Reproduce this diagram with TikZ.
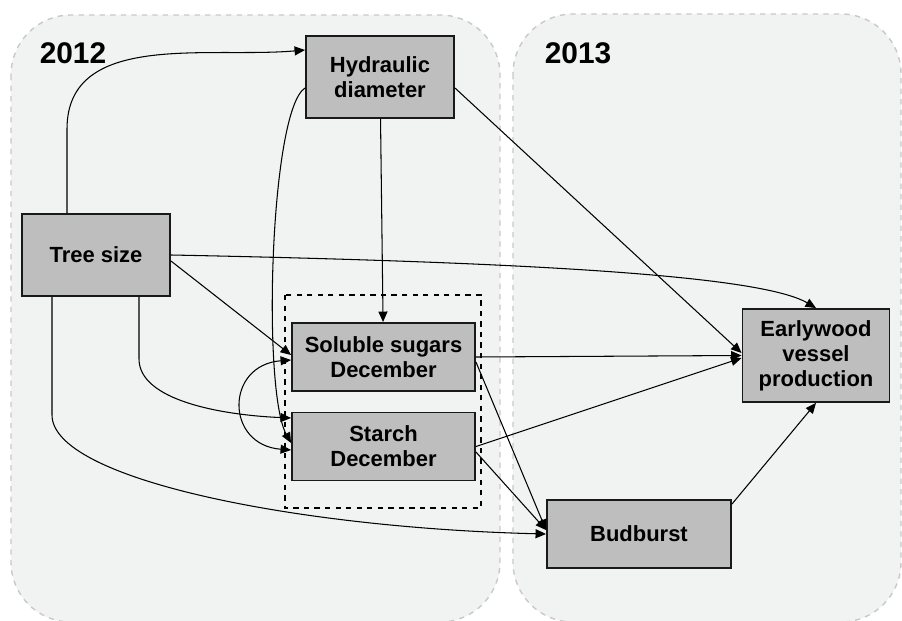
\documentclass[tikz,border=0pt]{standalone}
\usepackage{fontspec}
\setmainfont{Liberation Sans}
\usetikzlibrary{arrows.meta,calc}
\definecolor{panelgray}{HTML}{F1F2F2}
\definecolor{panelline}{HTML}{C9C9C9}
\definecolor{boxgray}{HTML}{BEBEBE}

\begin{document}
\begin{tikzpicture}[x=0.02cm,y=0.02cm,
  box/.style={rectangle,draw=black!90,line width=1.1pt,fill=boxgray,align=center,
    font=\fontsize{12.5}{14.2}\selectfont\bfseries,inner sep=2pt},
  panel/.style={draw=panelline,dashed,line width=0.8pt,fill=panelgray,rounded corners=1.2cm},
  year/.style={font=\fontsize{17}{20}\selectfont\bfseries},
  >={Triangle[length=2.1mm,width=1.8mm]},
  every path/.style={line width=0.6pt}]

\useasboundingbox[fill=white] (0,0) rectangle (902,-621);

% Years
\draw[panel] (11,-15) rectangle (500,-622);
\draw[panel] (513,-14) rectangle (901,-622);
\node[year] (y2012) at (73,-53) {2012};
\node[year] (y2013) at (578,-53) {2013};

% Boxes
\node (hyd) at (380,-77) [box,minimum width=2.96cm,minimum height=1.64cm] {Hydraulic\\diameter};
\node (tree) at (96,-255) [box,minimum width=2.96cm,minimum height=1.64cm] {Tree size};
\node (sugar) at (383.5,-357) [box,minimum width=3.66cm,minimum height=1.36cm] {Soluble sugars\\December};
\node (starch) at (383.5,-446.5) [box,minimum width=3.66cm,minimum height=1.36cm] {Starch\\December};
\node (early) at (816,-355.5) [box,minimum width=2.94cm,minimum height=1.86cm] {Earlywood\\vessel\\production};
\node (bud) at (639,-534) [box,minimum width=3.68cm,minimum height=1.36cm] {Budburst};
\draw[dashed,line width=1pt] (285,-295) rectangle (481,-508);

% Tree size
\coordinate (treeup) at ($(tree.north)+(-29,84)$);
\coordinate (treemid) at ($(tree.south)+(43,-62)$);
\coordinate (treelow) at ($(tree.south)+(-44,-118)$);
\draw[->] ($(tree.north)+(-29,0)$) -- (treeup) to[out=90,in=185] ($(hyd.west)+(0,27)$);
\draw[->] ($(tree.east)+(0,-6)$) -- ($(sugar.west)+(0,2)$);
\draw[->] (tree.east) .. controls (520,-262) and (760,-275) .. (early.north);
\draw[->] ($(tree.south)+(43,0)$) -- (treemid) .. controls (139,-400) and (220,-415) .. ($(starch.west)+(0,28.5)$);
\draw[->] ($(tree.south)+(-44,0)$) -- (treelow) .. controls (52,-480) and (300,-528) .. (bud.west);

% Hydraulic diameter
\draw[->] (hyd) -- (sugar);
\draw[->] ($(hyd.west)+(0,-11)$) .. controls (270,-110) and (262,-390) .. ($(starch.west)+(0,3.5)$);
\draw[->] ($(hyd.east)+(0,-11)$) -- ($(early.west)+(0,2.5)$);

% Carbohydrates
\draw[<->] ($(sugar.west)+(0,-3)$) .. controls (225,-365) and (225,-445) .. ($(starch.west)+(0,-3.5)$);
\draw[->] (sugar.east) -- (early.west);
\draw[->] (starch.east) -- ($(early.west)+(0,-2.5)$);
\draw[->] ($(sugar.east)+(0,-5)$) -- ($(bud.west)+(0,4)$);
\draw[->] ($(starch.east)+(0,-5.5)$) -- ($(bud.west)+(0,4)$);

% Budburst
\draw[->] ($(bud.north east)+(0,-5)$) -- (early.south);

\end{tikzpicture}
\end{document}
